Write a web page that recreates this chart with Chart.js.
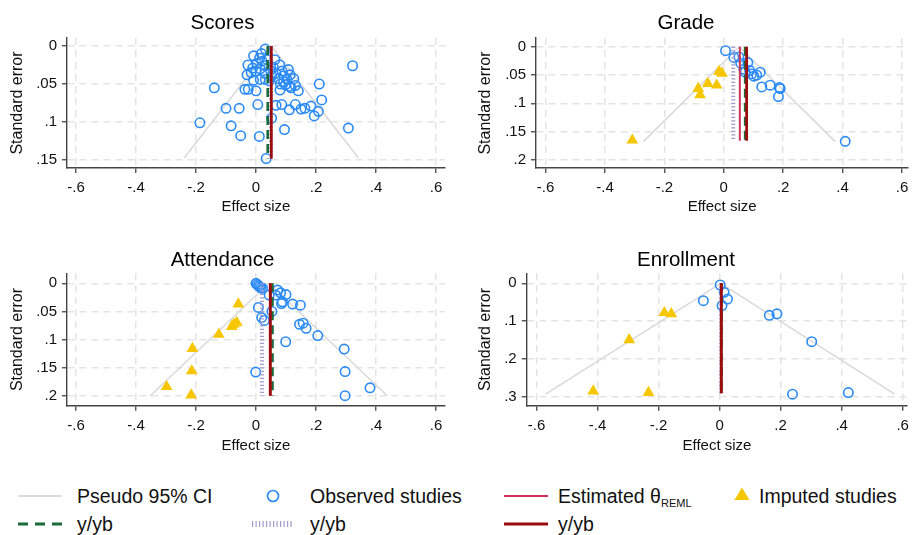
<!DOCTYPE html>
<html>
<head>
<meta charset="utf-8">
<script src="https://cdn.jsdelivr.net/npm/chart.js@4.4.1/dist/chart.umd.min.js"></script>
<style>
  html, body { margin: 0; padding: 0; background: #fff; width: 915px; height: 535px; overflow: hidden;
    font-family: "Liberation Sans", Arial, Helvetica, sans-serif; }
  .panel { position: absolute; }
  .lg { position: absolute; font-size: 19.5px; line-height: 22px; color: #111; white-space: nowrap; }
  .lg sub { font-size: 11px; vertical-align: -4px; }
  #legendMarks { position: absolute; left: 0; top: 480px; }
</style>
</head>
<body>
<canvas id="cScores" class="panel" style="left:0;top:0" width="457" height="225"></canvas>
<canvas id="cGrade" class="panel" style="left:460px;top:0" width="455" height="225"></canvas>
<canvas id="cAttendance" class="panel" style="left:0;top:240px" width="457" height="225"></canvas>
<canvas id="cEnrollment" class="panel" style="left:460px;top:240px" width="455" height="225"></canvas>

<svg id="legendMarks" width="915" height="55">
  <line x1="18" y1="16" x2="62" y2="16" stroke="#d9d9d9" stroke-width="2"/>
  <circle cx="273" cy="16" r="5.5" fill="none" stroke="#2a8af6" stroke-width="1.7"/>
  <line x1="504" y1="16" x2="548" y2="16" stroke="#cc3355" stroke-width="2"/>
  <polygon points="742,7.5 734.5,20 749.5,20" fill="#f6c700"/>
  <line x1="18" y1="44" x2="62" y2="44" stroke="#1b6b3c" stroke-width="3" stroke-dasharray="10 7"/>
  <line x1="252" y1="44" x2="293" y2="44" stroke="#a39bd0" stroke-width="6" stroke-dasharray="1.2 2.3"/>
  <line x1="504" y1="44" x2="548" y2="44" stroke="#9b0d0d" stroke-width="3"/>
</svg>
<div class="lg" style="left:77px;top:485px">Pseudo 95% CI</div>
<div class="lg" style="left:310px;top:485px">Observed studies</div>
<div class="lg" style="left:558px;top:485px">Estimated θ<sub>REML</sub></div>
<div class="lg" style="left:759px;top:485px">Imputed studies</div>
<div class="lg" style="left:77px;top:513px">y/yb</div>
<div class="lg" style="left:310px;top:513px">y/yb</div>
<div class="lg" style="left:558px;top:513px">y/yb</div>

<script>
// ---- shared axis ticks ----
const effectTicks = [-0.6, -0.4, -0.2, 0, 0.2, 0.4, 0.6];
const scoresSETicks = [0, 0.05, 0.1, 0.15];
const gradeSETicks = [0, 0.05, 0.1, 0.15, 0.2];
const attendanceSETicks = [0, 0.05, 0.1, 0.15, 0.2];
const enrollmentSETicks = [0, 0.1, 0.2, 0.3];

// ---- Scores ----
const scoresEffect = [
  0.322, -0.139, -0.187, -0.100, -0.056, -0.083, -0.051, 0.011, 0.034, 0.052,
  0.095, 0.308, 0.211, 0.219, 0.208, 0.194, 0.183, 0.163, 0.150, 0.131,
  0.111, 0.086, 0.067, 0.006, -0.037, -0.026, 0.000, 0.141, 0.080, 0.117,
  0.031, 0.018, -0.008, -0.027, -0.011, 0.003, 0.020, 0.037, 0.063, 0.079,
  0.087, -0.030, -0.016, 0.000, 0.014, 0.029, 0.031, 0.048, 0.053, 0.067,
  0.076, 0.092, 0.103, 0.114, 0.126, 0.098, 0.111, 0.081, 0.131, -0.008,
  0.014, 0.031, 0.108, 0.058, 0.044, 0.092, 0.012
];
const scoresSE = [
  0.026, 0.055, 0.101, 0.082, 0.082, 0.105, 0.118, 0.119, 0.148, 0.095,
  0.110, 0.108, 0.050, 0.071, 0.086, 0.092, 0.079, 0.082, 0.083, 0.077,
  0.084, 0.077, 0.078, 0.077, 0.057, 0.057, 0.059, 0.059, 0.058, 0.055,
  0.004, 0.010, 0.013, 0.025, 0.029, 0.023, 0.020, 0.018, 0.018, 0.025,
  0.033, 0.038, 0.035, 0.033, 0.030, 0.036, 0.026, 0.032, 0.039, 0.036,
  0.043, 0.039, 0.044, 0.038, 0.043, 0.051, 0.053, 0.050, 0.052, 0.045,
  0.044, 0.044, 0.031, 0.028, 0.046, 0.047, 0.016
];
const scoresImpEffect = [];
const scoresImpSE = [];
const scoresCIEffect = [-0.239, 0.051, 0.341];
const scoresCISE = [0.147, 0, 0.147];
// theta REML, y/yb (green), y/yb (purple), y/yb (dark red), line length
const scoresLines = [0.050, 0.039, 0.050, 0.051, 0.148];

// ---- Grade ----
const gradeEffect = [
  0.006, 0.034, 0.051, 0.057, 0.081, 0.068, 0.072, 0.087, 0.094, 0.101,
  0.111, 0.123, 0.128, 0.156, 0.187, 0.190, 0.184, 0.409
];
const gradeSE = [
  0.007, 0.019, 0.018, 0.029, 0.028, 0.040, 0.045, 0.042, 0.048, 0.052,
  0.050, 0.045, 0.071, 0.068, 0.072, 0.074, 0.088, 0.167
];
const gradeImpEffect = [-0.308, -0.086, -0.080, -0.054, -0.024, -0.016, -0.006];
const gradeImpSE = [0.165, 0.074, 0.085, 0.065, 0.068, 0.044, 0.047];
const gradeCIEffect = [-0.271, 0.052, 0.375];
const gradeCISE = [0.1676, 0, 0.1676];
const gradeLines = [0.054, 0.072, 0.032, 0.077, 0.166];

// ---- Attendance ----
const attendanceEffect = [
  0.000, 0.004, 0.008, 0.012, 0.016, 0.022, 0.044, 0.072, 0.082, 0.066,
  0.100, 0.088, 0.085, 0.122, 0.148, 0.008, 0.053, 0.019, 0.028, 0.145,
  0.157, 0.167, 0.206, 0.099, 0.294, -0.001, 0.297, 0.380, 0.297
];
const attendanceSE = [
  0.000, 0.002, 0.004, 0.006, 0.008, 0.009, 0.021, 0.012, 0.017, 0.021,
  0.020, 0.033, 0.036, 0.037, 0.039, 0.043, 0.050, 0.061, 0.066, 0.073,
  0.071, 0.080, 0.093, 0.104, 0.117, 0.158, 0.157, 0.186, 0.200
];
const attendanceImpEffect = [-0.059, -0.064, -0.074, -0.081, -0.124, -0.212, -0.214, -0.298, -0.216];
const attendanceImpSE = [0.037, 0.070, 0.073, 0.077, 0.091, 0.116, 0.156, 0.184, 0.199];
const attendanceCIEffect = [-0.353, 0.043, 0.438];
const attendanceCISE = [0.2005, 0, 0.2005];
const attendanceLines = [0.046, 0.055, 0.020, 0.048, 0.200];

// ---- Enrollment ----
const enrollmentEffect = [0.002, 0.015, 0.026, 0.008, -0.053, 0.163, 0.188, 0.302, 0.239, 0.422];
const enrollmentSE = [0.0045, 0.024, 0.042, 0.059, 0.046, 0.085, 0.081, 0.155, 0.294, 0.290];
const enrollmentImpEffect = [-0.181, -0.158, -0.296, -0.414, -0.233];
const enrollmentImpSE = [0.078, 0.081, 0.150, 0.286, 0.290];
const enrollmentCIEffect = [-0.570, 0.004, 0.574];
const enrollmentCISE = [0.2937, 0, 0.2937];
const enrollmentLines = [0.004, 0.006, 0.005, 0.006, 0.292];

// ---- styling ----
const FONT = '"Liberation Sans", Arial, Helvetica, sans-serif';
const COL_OBS = '#2a8af6';
const COL_IMP = '#f6c700';
const COL_CI = '#d9d9d9';
const COL_THETA = '#cc3355';
const COL_GREEN = '#1b6b3c';
const COL_PURPLE = '#a39bd0';
const COL_DARKRED = '#9b0d0d';

const fmt = v => {
  if (Math.abs(v) < 1e-9) return '0';
  return (Math.round(v * 1000) / 1000).toString().replace('0.', '.');
};
const pts = (xs, ys) => xs.map((x, i) => ({ x: x, y: ys[i] }));
const vline = (x, len, color, width, dash, order) => ({
  data: [{ x: x, y: 0 }, { x: x, y: len }],
  showLine: true, pointRadius: 0, borderColor: color, borderWidth: width,
  borderDash: dash, borderCapStyle: 'butt', order: order
});

function drawPanel(cfg) {
  const [theta, green, purple, darkred, len] = cfg.lines;
  new Chart(document.getElementById(cfg.id), {
    type: 'scatter',
    data: {
      datasets: [
        vline(darkred, len, COL_DARKRED, 2.8, [], 0),
        vline(green, len, COL_GREEN, 2.6, [9, 5], 1),
        vline(theta, len, COL_THETA, 2, [], 2),
        vline(purple, len, COL_PURPLE, 4, [1.2, 2.3], 3),
        { data: pts(cfg.obsX, cfg.obsY), pointStyle: 'circle', pointRadius: 4.7,
          borderColor: COL_OBS, backgroundColor: 'rgba(0,0,0,0)', borderWidth: 1.6, order: 4 },
        { data: pts(cfg.impX, cfg.impY), pointStyle: 'triangle', pointRadius: 6.8,
          borderColor: COL_IMP, backgroundColor: COL_IMP, borderWidth: 0, order: 5 },
        { data: pts(cfg.ciX, cfg.ciY), showLine: true, pointRadius: 0,
          borderColor: COL_CI, borderWidth: 1.5, order: 6 }
      ]
    },
    options: {
      responsive: false,
      animation: false,
      events: [],
      layout: { padding: { left: 0, right: cfg.padRight, top: 0, bottom: 0 } },
      plugins: {
        legend: { display: false },
        tooltip: { enabled: false },
        title: {
          display: true, text: cfg.title, color: '#000',
          font: { family: FONT, size: 20.5, weight: 'normal', lineHeight: 1.2 },
          padding: { top: cfg.titleTop, bottom: cfg.titleBottom }
        }
      },
      scales: {
        x: {
          type: 'linear', position: 'bottom', min: cfg.xMin, max: cfg.xMax,
          afterBuildTicks: s => { s.ticks = effectTicks.map(v => ({ value: v })); },
          afterFit: s => { s.height = cfg.xAxisH; },
          ticks: { callback: v => fmt(v), font: { family: FONT, size: 15 }, color: '#111',
                   padding: 6, autoSkip: false, maxRotation: 0 },
          grid: { color: '#e4e4e4', lineWidth: 1.5, tickColor: '#444', tickLength: 5, tickWidth: 1.3 },
          border: { display: true, color: '#444', width: 1.4, dash: [7, 5] },
          title: { display: true, text: 'Effect size', color: '#111',
                   font: { family: FONT, size: 15, lineHeight: 1.2 },
                   padding: { top: 0, bottom: cfg.xTitleBottom } }
        },
        y: {
          type: 'linear', position: 'left', reverse: true, min: cfg.yMin, max: cfg.yMax,
          afterBuildTicks: s => { s.ticks = cfg.yTicks.map(v => ({ value: v })); },
          afterFit: s => { s.width = cfg.yAxisW; },
          ticks: { callback: v => fmt(v), font: { family: FONT, size: 15 }, color: '#111',
                   padding: 5, autoSkip: false },
          grid: { color: '#e4e4e4', lineWidth: 1.5, tickColor: '#444', tickLength: 5, tickWidth: 1.3 },
          border: { display: true, color: '#444', width: 1.4, dash: [7, 5] },
          title: { display: true, text: 'Standard error', color: '#111',
                   font: { family: FONT, size: 16, lineHeight: 1.2 },
                   padding: { top: cfg.yTitleTop, bottom: 0 } }
        }
      }
    }
  });
}

drawPanel({
  id: 'cScores', title: 'Scores',
  obsX: scoresEffect, obsY: scoresSE, impX: scoresImpEffect, impY: scoresImpSE,
  ciX: scoresCIEffect, ciY: scoresCISE, lines: scoresLines, yTicks: scoresSETicks,
  xMin: -0.63, xMax: 0.63, yMin: -0.0105, yMax: 0.1605,
  yAxisW: 67, xAxisH: 57, padRight: 12, titleTop: 10.7, titleBottom: 2.7,
  xTitleBottom: 9, yTitleTop: 7.7
});
drawPanel({
  id: 'cGrade', title: 'Grade',
  obsX: gradeEffect, obsY: gradeSE, impX: gradeImpEffect, impY: gradeImpSE,
  ciX: gradeCIEffect, ciY: gradeCISE, lines: gradeLines, yTicks: gradeSETicks,
  xMin: -0.6323, xMax: 0.621, yMin: -0.01535, yMax: 0.2141,
  yAxisW: 76, xAxisH: 57, padRight: 3, titleTop: 10.7, titleBottom: 2.7,
  xTitleBottom: 9, yTitleTop: 16.2
});
drawPanel({
  id: 'cAttendance', title: 'Attendance',
  obsX: attendanceEffect, obsY: attendanceSE, impX: attendanceImpEffect, impY: attendanceImpSE,
  ciX: attendanceCIEffect, ciY: attendanceCISE, lines: attendanceLines, yTicks: attendanceSETicks,
  xMin: -0.63, xMax: 0.63, yMin: -0.0178, yMax: 0.2178,
  yAxisW: 67, xAxisH: 59.3, padRight: 12, titleTop: 7.7, titleBottom: 1.0,
  xTitleBottom: 10, yTitleTop: 7.9
});
drawPanel({
  id: 'cEnrollment', title: 'Enrollment',
  obsX: enrollmentEffect, obsY: enrollmentSE, impX: enrollmentImpEffect, impY: enrollmentImpSE,
  ciX: enrollmentCIEffect, ciY: enrollmentCISE, lines: enrollmentLines, yTicks: enrollmentSETicks,
  xMin: -0.632, xMax: 0.6149, yMin: -0.0265, yMax: 0.3247,
  yAxisW: 66.7, xAxisH: 59.3, padRight: 3, titleTop: 7.7, titleBottom: 1.0,
  xTitleBottom: 10, yTitleTop: 16.2
});
</script>
</body>
</html>
